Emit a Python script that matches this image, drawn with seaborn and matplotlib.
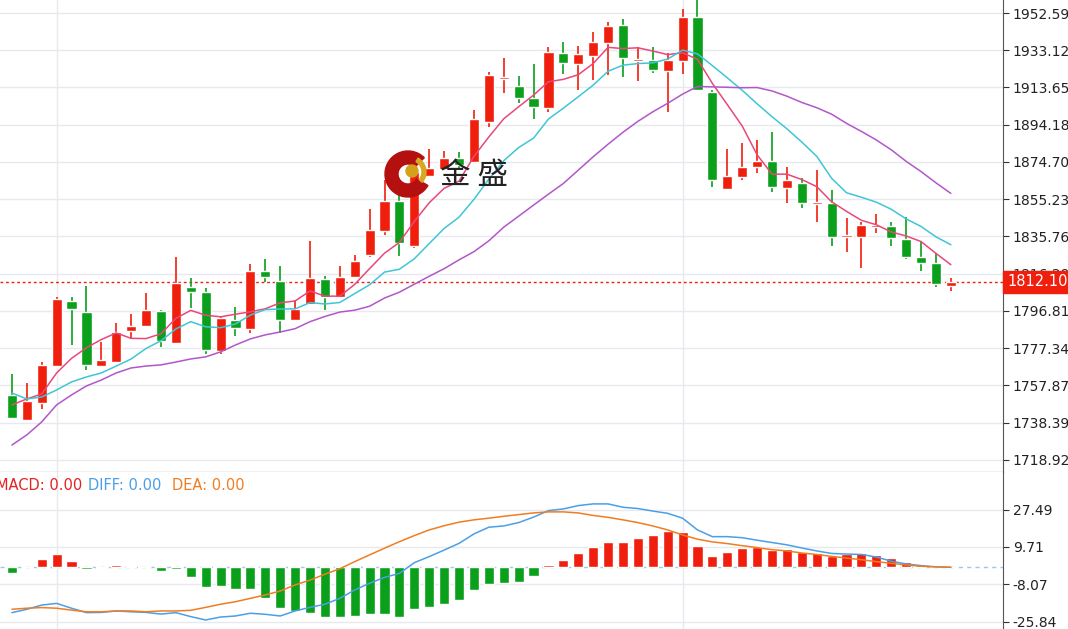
import numpy as np
import pandas as pd
import matplotlib
matplotlib.use("Agg")
import matplotlib.pyplot as plt
import seaborn as sns
from matplotlib.patches import Circle, Wedge
from matplotlib.transforms import IdentityTransform

# ---- price data ----
opens = [1752.9, 1739.8, 1748.7, 1768.0, 1802.0, 1796.3, 1768.0, 1770.1, 1786.3, 1789.0,
         1796.8, 1780.1, 1809.4, 1806.7, 1775.9, 1792.1, 1787.4, 1817.7, 1812.5, 1792.1,
         1800.5, 1813.5, 1804.1, 1814.6, 1826.1, 1838.6, 1854.3, 1830.8, 1867.4, 1871.0,
         1876.8, 1874.7, 1895.6, 1918.1, 1914.4, 1908.2, 1902.9, 1931.7, 1925.9, 1930.1,
         1936.9, 1946.3, 1927.5, 1928.0, 1922.3, 1927.5, 1950.5, 1911.3, 1860.6, 1866.8,
         1872.1, 1875.2, 1861.1, 1863.7, 1852.7, 1853.3, 1835.5, 1835.5, 1840.7, 1841.2,
         1834.4, 1825.0, 1821.9, 1809.9]
closes = [1740.9, 1749.7, 1768.6, 1803.1, 1797.8, 1768.6, 1771.2, 1785.8, 1789.0, 1797.3,
          1781.1, 1811.4, 1806.7, 1776.4, 1793.1, 1787.9, 1817.7, 1814.6, 1792.1, 1797.8,
          1814.1, 1804.1, 1814.6, 1822.9, 1839.1, 1854.3, 1832.4, 1869.5, 1871.6, 1876.8,
          1873.1, 1897.2, 1920.2, 1919.1, 1908.2, 1903.5, 1932.2, 1926.5, 1931.2, 1937.4,
          1945.8, 1929.1, 1928.5, 1922.8, 1928.0, 1950.5, 1912.3, 1865.3, 1867.4, 1872.1,
          1875.2, 1861.6, 1865.3, 1853.3, 1853.8, 1835.5, 1836.5, 1841.8, 1841.8, 1835.0,
          1825.0, 1821.9, 1810.9, 1812.1]
highs = [1763.9, 1759.2, 1770.1, 1804.1, 1804.1, 1809.9, 1780.6, 1790.5, 1795.2, 1806.2,
         1797.3, 1825.0, 1814.1, 1808.8, 1794.2, 1798.9, 1821.4, 1824.0, 1820.3, 1802.6,
         1833.4, 1815.0, 1820.3, 1826.1, 1850.1, 1865.3, 1857.4, 1875.7, 1881.5, 1880.4,
         1879.9, 1901.9, 1921.8, 1929.1, 1919.5, 1925.9, 1934.8, 1937.4, 1935.3, 1942.7,
         1947.9, 1949.5, 1934.8, 1934.8, 1931.7, 1954.7, 1962.0, 1912.3, 1881.5, 1884.6,
         1886.2, 1890.4, 1872.1, 1866.3, 1870.5, 1860.1, 1845.4, 1843.3, 1847.5, 1843.3,
         1845.9, 1832.9, 1827.1, 1814.1]
lows = [1740.3, 1739.3, 1745.6, 1767.5, 1779.0, 1766.0, 1767.5, 1769.6, 1782.2, 1788.5,
        1778.0, 1779.6, 1798.4, 1774.3, 1774.3, 1783.7, 1785.3, 1812.0, 1785.3, 1791.6,
        1799.9, 1797.3, 1803.6, 1814.1, 1825.0, 1836.5, 1825.6, 1829.7, 1866.8, 1870.5,
        1870.5, 1874.2, 1893.0, 1910.8, 1905.5, 1897.2, 1900.8, 1920.7, 1912.3, 1917.6,
        1920.2, 1919.1, 1917.0, 1921.2, 1900.8, 1920.7, 1911.8, 1861.6, 1860.1, 1865.3,
        1869.0, 1859.0, 1853.3, 1850.7, 1843.3, 1830.8, 1827.6, 1819.3, 1837.6, 1830.8,
        1824.0, 1817.7, 1809.4, 1807.3]

# moving-average values before enough candles are visible
ma5_head = [1747.7, 1750.8, 1753.4, 1764.4]
ma10_head = [1753.9, 1750.8, 1751.8, 1755.5, 1759.7, 1762.3, 1764.4, 1768.0, 1771.7]
ma20_head = [1726.7, 1732.0, 1738.8, 1747.7, 1752.9, 1757.6, 1760.7, 1764.4, 1767.0, 1768.0,
             1768.6, 1770.1, 1771.7, 1772.8, 1775.4, 1779.0, 1782.2, 1784.3, 1785.8]

# ---- MACD data ----
macd_hist = [-2.9, 0.0, 3.8, 6.2, 3.0, -0.8, -0.3, 1.1, 0.8, 0.0,
             -1.6, -0.8, -4.8, -9.4, -9.1, -10.5, -10.4, -14.8, -19.5, -20.8,
             -21.6, -23.8, -23.8, -23.2, -22.4, -22.4, -23.5, -19.7, -18.9, -17.6,
             -15.4, -11.0, -8.0, -7.6, -7.2, -4.0, 1.1, 3.3, 6.7, 9.7,
             12.1, 12.1, 14.0, 15.5, 17.5, 16.8, 10.2, 5.5, 7.4, 9.2,
             9.5, 8.2, 8.6, 7.4, 7.0, 5.5, 6.3, 7.0, 6.0, 4.3,
             2.5, 1.2, 0.0, 0.0]
diff = [-21.6, -20.0, -18.0, -17.2, -19.5, -21.6, -21.5, -20.8, -21.2, -21.5,
        -22.3, -21.6, -23.5, -25.1, -23.7, -23.2, -21.9, -22.4, -23.2, -20.8,
        -19.1, -17.6, -14.8, -10.8, -7.6, -4.8, -2.9, 2.2, 5.1, 8.2,
        11.4, 15.9, 19.1, 19.7, 21.3, 23.9, 27.0, 27.8, 29.4, 30.2,
        30.2, 28.6, 28.0, 26.8, 25.7, 23.4, 17.8, 14.6, 14.6, 14.1,
        12.9, 11.8, 10.7, 9.2, 7.8, 6.6, 6.3, 6.1, 4.9, 2.9,
        1.6, 0.8, 0.2, 0.0]
dea = [-20.0, -19.5, -19.2, -19.5, -20.4, -21.2, -21.2, -20.8, -20.8, -21.2,
       -20.8, -20.8, -20.5, -19.1, -17.6, -16.4, -14.8, -13.2, -11.3, -8.4,
       -6.1, -3.3, -0.7, 2.7, 5.9, 9.1, 12.2, 15.1, 17.8, 19.8,
       21.5, 22.6, 23.4, 24.3, 25.1, 25.9, 26.4, 26.4, 25.9, 24.7,
       23.8, 22.6, 21.3, 19.7, 17.8, 15.4, 13.4, 12.1, 11.3, 10.3,
       9.4, 8.4, 7.8, 6.8, 6.1, 5.2, 4.4, 3.6, 2.7, 1.9,
       1.1, 0.5, 0.2, 0.0]

price_ticks = [1952.59, 1933.12, 1913.65, 1894.18, 1874.70, 1855.23, 1835.76,
               1816.29, 1796.81, 1777.34, 1757.87, 1738.39, 1718.92]
macd_ticks = [27.49, 9.71, -8.07, -25.84]
last_price = 1812.10

RED = "#f01e0c"
GREEN = "#0aa01c"

df = pd.DataFrame({"open": opens, "close": closes, "high": highs, "low": lows})
df["idx"] = np.arange(len(df))
for n, head in [(5, ma5_head), (10, ma10_head), (20, ma20_head)]:
    ma = df["close"].rolling(n).mean()
    ma.iloc[:len(head)] = head
    df[f"ma{n}"] = ma
df["hist"] = macd_hist
df["diff"] = diff
df["dea"] = dea

sns.set_style("white")
plt.rcParams["font.family"] = ["DejaVu Sans"]

fig = plt.figure(figsize=(10.68, 6.29), dpi=100)
ax = fig.add_axes([0, 157 / 629, 1003 / 1068, 472 / 629])
ax2 = fig.add_axes([0, 0, 1003 / 1068, 157 / 629])

xlim = (-0.8, 66.5)

# ---- candles ----
up = df["close"] >= df["open"]
colors = np.where(up, RED, GREEN)
ax.vlines(df["idx"], df["low"], df["high"], colors=colors, lw=1.2, zorder=3)
body_low = np.minimum(df["open"], df["close"])
body_h = np.maximum(np.abs(df["close"] - df["open"]), 0.9)
ax.bar(df["idx"], body_h, bottom=body_low, width=0.68, color=colors, zorder=4)

sns.lineplot(data=df, x="idx", y="ma5", ax=ax, color="#e8487a", lw=1.1, zorder=5)
sns.lineplot(data=df, x="idx", y="ma10", ax=ax, color="#3fc6d6", lw=1.1, zorder=5)
sns.lineplot(data=df, x="idx", y="ma20", ax=ax, color="#b257c9", lw=1.1, zorder=5)

ax.axhline(last_price, color=RED, ls=(0, (2, 2)), lw=1, zorder=2)
ax.set_xlim(*xlim)
ax.set_ylim(1712.6, 1959.39)
ax.set_yticks(price_ticks)
ax.set_yticklabels([f"{t:.2f}" for t in price_ticks])
ax.yaxis.tick_right()
ax.set_xticks([3, 45])
ax.set_xticklabels([])
ax.grid(True, axis="both", color="#e6eaee", lw=1)
ax.tick_params(axis="y", length=4, color="#333333", labelsize=10, pad=3,
               labelcolor="#222222")
ax.tick_params(axis="x", length=0)
ax.set_xlabel("")
ax.set_ylabel("")
for s in ["top", "left"]:
    ax.spines[s].set_visible(False)
ax.spines["right"].set_color("#555555")
ax.spines["bottom"].set_color("#222222")
ax.text(1.004, last_price, "1812.10", transform=ax.get_yaxis_transform(),
        color="white", fontsize=10.5, va="center", ha="left", zorder=10,
        bbox=dict(boxstyle="square,pad=0.25", fc=RED, ec=RED), clip_on=False)

# ---- watermark (pixel coordinates) ----
H = 629
pix = IdentityTransform()
fig.patches.append(Wedge((408, H - 174), 23, 45, 330, width=13, transform=pix,
                         color="#b3100f", zorder=6))
fig.patches.append(Wedge((410, H - 172), 16, -40, 60, width=4, transform=pix,
                         color="#d9a822", zorder=6))
fig.patches.append(Circle((412, H - 171), 6, transform=pix, color="#d4a21a", zorder=7))
fig.text(440 / 1068, 1 - 176 / H, "金 盛", fontsize=22, family=["Noto Sans CJK SC"],
         color="#222222", va="center", zorder=7)

# ---- MACD panel ----
hcolors = np.where(df["hist"] >= 0, RED, GREEN)
ax2.bar(df["idx"], df["hist"], width=0.68, color=hcolors, zorder=3)
sns.lineplot(data=df, x="idx", y="diff", ax=ax2, color="#4a9fe6", lw=1.1, zorder=4)
sns.lineplot(data=df, x="idx", y="dea", ax=ax2, color="#f07d22", lw=1.1, zorder=4)
ax2.axhline(0, color="#9cc9de", ls=(0, (3, 3)), lw=1, zorder=2)
ax2.set_xlim(*xlim)
ax2.set_ylim(-29.4, 45.4)
ax2.set_yticks(macd_ticks)
ax2.set_yticklabels([f"{t:.2f}" for t in macd_ticks])
ax2.yaxis.tick_right()
ax2.set_xticks([3, 45])
ax2.set_xticklabels([])
ax2.grid(True, axis="both", color="#e6eaee", lw=1)
ax2.tick_params(axis="y", length=4, color="#333333", labelsize=10, pad=3,
                labelcolor="#222222")
ax2.tick_params(axis="x", length=0)
ax2.set_xlabel("")
ax2.set_ylabel("")
for s in ["top", "left", "bottom"]:
    ax2.spines[s].set_visible(False)
ax2.spines["right"].set_color("#555555")

ty = 1 - 486 / H
fig.text(-4 / 1068, ty, "MACD: 0.00", color="#e52222", fontsize=10.5, va="center")
fig.text(88 / 1068, ty, "DIFF: 0.00", color="#4a9fe6", fontsize=10.5, va="center")
fig.text(172 / 1068, ty, "DEA: 0.00", color="#f07d22", fontsize=10.5, va="center")

fig.savefig("out.png", dpi=100)
